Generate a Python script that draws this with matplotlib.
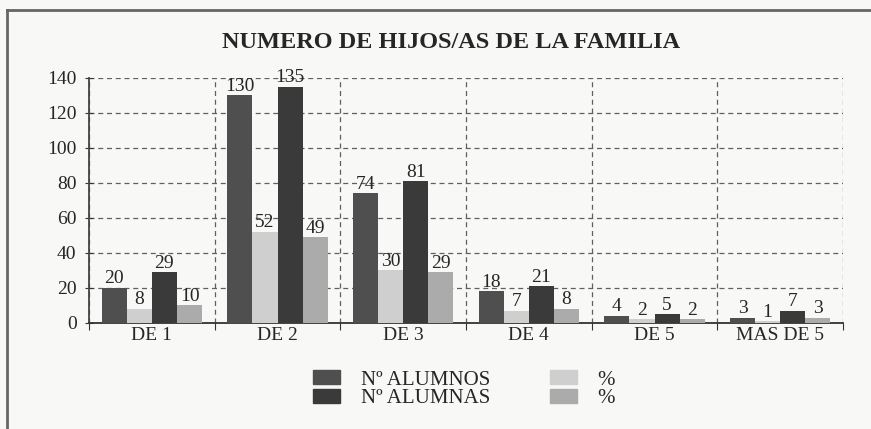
import matplotlib
matplotlib.use("Agg")
import matplotlib.pyplot as plt
import numpy as np
from matplotlib.patches import Patch
from matplotlib.lines import Line2D

categories = ["DE 1", "DE 2", "DE 3", "DE 4", "DE 5", "MAS DE 5"]
alumnos = [20, 130, 74, 18, 4, 3]
pct_alumnos = [8, 52, 30, 7, 2, 1]
alumnas = [29, 135, 81, 21, 5, 7]
pct_alumnas = [10, 49, 29, 8, 2, 3]
yticks = [0, 20, 40, 60, 80, 100, 120, 140]

plt.rcParams['font.family'] = ['Liberation Serif', 'DejaVu Serif']

bg = '#f8f8f6'
txt = '#262626'
fig = plt.figure(figsize=(8.71, 4.29), dpi=100, facecolor=bg)
ax = fig.add_axes([0.1022, 0.2471, 0.8657, 0.5711], facecolor=bg)

series = [
    (alumnos, '#4f4f4f', 'Nº ALUMNOS'),
    (pct_alumnos, '#cfcfcf', '%'),
    (alumnas, '#3a3a3a', 'Nº ALUMNAS'),
    (pct_alumnas, '#ababab', '%'),
]
x = np.arange(len(categories))
w = 0.2
offsets = [-0.3, -0.1, 0.1, 0.3]
for (vals, col, lab), off in zip(series, offsets):
    bars = ax.bar(x + off, vals, width=w, color=col, zorder=3, linewidth=0)
    for b, v in zip(bars, vals):
        ax.text(b.get_x() + b.get_width() / 2, v + 0.3, str(v), ha='center', va='bottom',
                fontsize=14, color=txt, zorder=4)

ax.set_xlim(-0.5, len(categories) - 0.5)
ax.set_ylim(0, 140)
ax.set_yticks(yticks)
ax.set_yticklabels([str(t) for t in yticks], fontsize=14, color=txt)
ax.set_xticks(np.arange(len(categories) + 1) - 0.5)
ax.set_xticklabels([])
ax.set_xticks(x, minor=True)
ax.set_xticklabels(categories, minor=True, fontsize=14, color=txt)
ax.tick_params(axis='x', which='minor', length=0, pad=3)
ax.tick_params(axis='x', which='major', length=5, direction='out', color='#333333')
ax.tick_params(axis='y', length=6, direction='inout', color='#333333', pad=6)
ax.grid(True, which='major', axis='both', linestyle=(0, (4, 3)), color='#606060', linewidth=0.9, zorder=1)
for s in ['top', 'right']:
    ax.spines[s].set_visible(False)
ax.spines['left'].set_color('#444444')
ax.spines['bottom'].set_color('#333333')
ax.spines['left'].set_linewidth(1.3)
ax.spines['bottom'].set_linewidth(1.3)

fig.text(0.518, 0.9, 'NUMERO DE HIJOS/AS DE LA FAMILIA', ha='center', va='center',
         fontsize=17.5, fontweight='bold', color=txt)

handles = [Patch(color=c) for _, c, _ in series]
labels = [l for _, _, l in series]
order = [0, 2, 1, 3]
leg = fig.legend([handles[i] for i in order], [labels[i] for i in order], ncol=2,
                 loc='center', bbox_to_anchor=(0.533, 0.093), frameon=False,
                 fontsize=15, handlelength=1.3, handleheight=0.67, columnspacing=2.85,
                 labelspacing=-0.05, handletextpad=1.0)
for t in leg.get_texts():
    t.set_color(txt)

fig.add_artist(Line2D([7 / 871, 1.0], [1 - 10 / 429] * 2, transform=fig.transFigure,
                      color='#666666', linewidth=2.0))
fig.add_artist(Line2D([7 / 871] * 2, [0, 1 - 10 / 429], transform=fig.transFigure,
                      color='#666666', linewidth=2.0))

fig.savefig('out.png', dpi=100, facecolor=bg)
